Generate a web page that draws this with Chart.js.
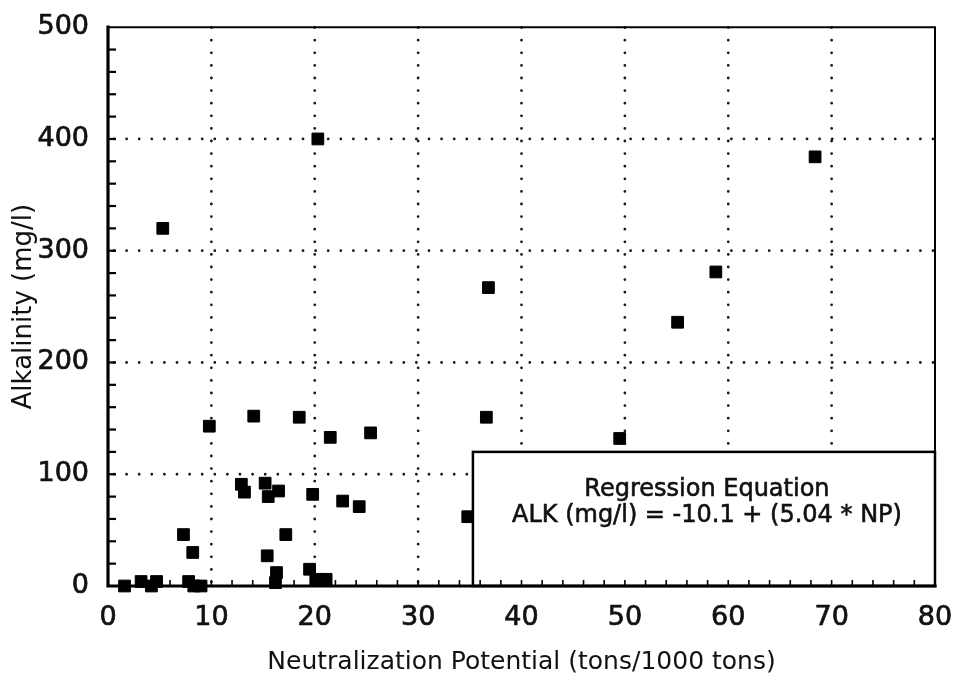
<!DOCTYPE html>
<html>
<head>
<meta charset="utf-8">
<script src="https://cdn.jsdelivr.net/npm/chart.js@4.4.0/dist/chart.umd.min.js"></script>
<style>
html,body{margin:0;padding:0;background:#fff;}
#wrap{width:964px;height:685px;}
</style>
</head>
<body>
<div id="wrap"><canvas id="c" width="964" height="685"></canvas></div>
<script>
// ---- data ----
const npValues  = [1.6, 3.2, 4.2, 4.7, 5.3, 7.3, 7.8, 8.2, 8.3, 9.0,
                   9.8, 12.9, 13.2, 14.1, 15.2, 15.4, 15.5, 16.2, 16.3, 16.5,
                   17.2, 18.5, 19.5, 19.8, 20.1, 20.3, 21.1, 21.5, 22.7, 24.3,
                   25.4, 34.8, 36.6, 36.8, 49.5, 55.1, 58.8, 68.4];
const alkValues = [0, 4, 0, 4, 320, 46, 4, 30, 0, 0,
                   143, 91, 84, 152, 92, 27, 80, 3, 12, 85,
                   46, 151, 15, 82, 6, 400, 6, 133, 76, 71,
                   137, 62, 151, 267, 132, 236, 281, 384];
const xTicks = [0, 10, 20, 30, 40, 50, 60, 70, 80];
const yTicks = [0, 100, 200, 300, 400, 500];
const xTitle = 'Neutralization Potential (tons/1000 tons)';
const yTitle = 'Alkalinity (mg/l)';
const boxLines = ['Regression Equation', 'ALK (mg/l) = -10.1 + (5.04 * NP)'];
const boxExtent = {xMin: 35.3, xMax: 80, yMin: 0, yMax: 120};

const FONT = "'DejaVu Sans', sans-serif";
const points = npValues.map((v, i) => ({x: v, y: alkValues[i]}));

const decor = {
  id: 'decor',
  beforeDatasetsDraw(chart) {
    const {ctx, chartArea: a, scales: {x, y}} = chart;
    ctx.save();
    ctx.strokeStyle = '#1a1a1a';
    ctx.lineWidth = 2.8;
    ctx.lineCap = 'round';
    ctx.setLineDash([0, 12.6]);
    xTicks.forEach(v => {
      if (v === x.min || v === x.max) return;
      const px = x.getPixelForValue(v);
      ctx.beginPath(); ctx.moveTo(px, a.bottom - 4); ctx.lineTo(px, a.top); ctx.stroke();
    });
    yTicks.forEach(v => {
      if (v === y.min || v === y.max) return;
      const py = y.getPixelForValue(v);
      ctx.beginPath(); ctx.moveTo(a.left + 6, py); ctx.lineTo(a.right, py); ctx.stroke();
    });
    ctx.restore();
  },
  afterDatasetsDraw(chart) {
    const {ctx, chartArea: a, scales: {x, y}} = chart;
    ctx.save();
    // regression box
    const bx0 = x.getPixelForValue(boxExtent.xMin);
    const bx1 = x.getPixelForValue(boxExtent.xMax);
    const by0 = y.getPixelForValue(boxExtent.yMax);
    const by1 = y.getPixelForValue(boxExtent.yMin);
    ctx.fillStyle = '#fff';
    ctx.fillRect(bx0, by0, bx1 - bx0, by1 - by0);
    ctx.strokeStyle = '#000';
    ctx.lineWidth = 2.5;
    ctx.strokeRect(bx0, by0, bx1 - bx0, by1 - by0);
    ctx.fillStyle = '#111';
    ctx.strokeStyle = '#111';
    ctx.lineWidth = 0.6;
    ctx.font = '24px ' + FONT;
    ctx.textAlign = 'center';
    ctx.textBaseline = 'middle';
    const cx = (bx0 + bx1) / 2 + 3;
    const h = by1 - by0;
    [[boxLines[0], 0.28], [boxLines[1], 0.48]].forEach(([t, f]) => {
      ctx.fillText(t, cx, by0 + h * f);
      ctx.strokeText(t, cx, by0 + h * f);
    });

    // axes frame
    ctx.strokeStyle = '#000';
    ctx.lineCap = 'square';
    ctx.lineWidth = 2;
    ctx.beginPath();
    ctx.moveTo(a.left, a.top); ctx.lineTo(a.right, a.top); ctx.lineTo(a.right, a.bottom);
    ctx.stroke();
    ctx.lineWidth = 3.2;
    ctx.beginPath();
    ctx.moveTo(a.left, a.top); ctx.lineTo(a.left, a.bottom); ctx.lineTo(a.right, a.bottom);
    ctx.stroke();
    // inward ticks
    ctx.lineCap = 'butt';
    ctx.lineWidth = 2.2;
    for (let v = y.min + 20; v < y.max; v += 20) {
      const py = y.getPixelForValue(v);
      ctx.beginPath(); ctx.moveTo(a.left, py); ctx.lineTo(a.left + 8, py); ctx.stroke();
    }
    ctx.lineWidth = 1.6;
    for (let v = x.min + 2; v < x.max; v += 2) {
      const px = x.getPixelForValue(v);
      ctx.beginPath(); ctx.moveTo(px, a.bottom); ctx.lineTo(px, a.bottom - 6); ctx.stroke();
    }
    ctx.restore();
  }
};

new Chart(document.getElementById('c'), {
  type: 'scatter',
  data: {
    datasets: [{
      data: points,
      pointStyle: 'rect',
      pointRadius: 8.3,
      pointHoverRadius: 8.3,
      backgroundColor: '#000',
      borderColor: '#000',
      borderWidth: 1,
      clip: false
    }]
  },
  options: {
    responsive: false,
    animation: false,
    devicePixelRatio: 1,
    layout: {padding: {top: 22, right: 29, left: 0, bottom: 0}},
    plugins: {legend: {display: false}, tooltip: {enabled: false}},
    scales: {
      x: {
        type: 'linear', min: 0, max: 80,
        afterBuildTicks: s => { s.ticks = xTicks.map(v => ({value: v})); },
        afterFit: s => { s.height = 99; },
        grid: {display: false},
        border: {display: false},
        ticks: {font: {family: FONT, size: 27}, color: '#111', padding: 8, maxRotation: 0, autoSkip: false,
                textStrokeColor: '#111', textStrokeWidth: 0.7},
        title: {display: true, text: xTitle, font: {family: FONT, size: 25}, color: '#111', padding: {top: 0, bottom: 8}}
      },
      y: {
        type: 'linear', min: 0, max: 500,
        afterBuildTicks: s => { s.ticks = yTicks.map(v => ({value: v})); },
        afterFit: s => { s.width = 108; },
        grid: {display: false},
        border: {display: false},
        ticks: {font: {family: FONT, size: 27}, color: '#111', padding: 11, autoSkip: false,
                textStrokeColor: '#111', textStrokeWidth: 0.7},
        title: {display: true, text: yTitle, font: {family: FONT, size: 26}, color: '#111', padding: {top: 9, bottom: 0}}
      }
    }
  },
  plugins: [decor]
});
</script>
</body>
</html>
